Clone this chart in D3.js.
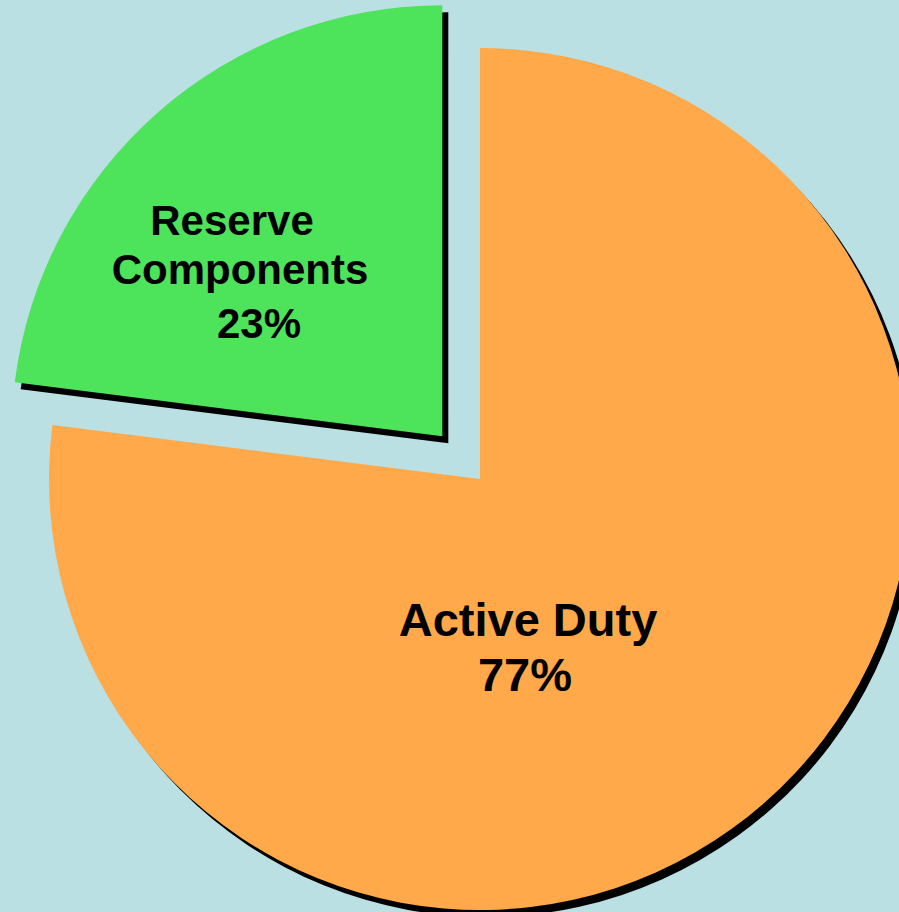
<!DOCTYPE html>
<html><head><meta charset="utf-8">
<script src="https://cdn.jsdelivr.net/npm/d3@7"></script>
<style>html,body{margin:0;padding:0;background:#BBE0E3;overflow:hidden;}</style>
</head><body>
<svg id="c" width="899" height="912"></svg>
<script>
const categories = ["Active Duty", "Reserve Components"];
const values = [77, 23];
const labels = [["Active Duty", "77%"], ["Reserve", "Components", "23%"]];
const colors = ["#FFA94A", "#4DE45B"];
const explode = [0, 57];

const W = 899, H = 912, cx = 480, cy = 479, R = 431;
const svg = d3.select("#c");
svg.append("rect").attr("width", W).attr("height", H).attr("fill", "#BBE0E3");

const pie = d3.pie().sort(null).value(d => d)(values);
const arc = d3.arc().innerRadius(0).outerRadius(R);
const g = svg.append("g").attr("transform", `translate(${cx},${cy})`);

function off(d, i) {
  const a = (d.startAngle + d.endAngle) / 2;
  return [Math.sin(a) * explode[i], -Math.cos(a) * explode[i]];
}
// shadows
g.selectAll("path.sh").data(pie).join("path").attr("class", "sh")
  .attr("d", arc).attr("fill", "#000")
  .attr("transform", (d, i) => { const o = off(d, i); return `translate(${o[0] + 6},${o[1] + 7})`; });
g.selectAll("path.sl").data(pie).join("path").attr("class", "sl")
  .attr("d", arc).attr("fill", (d, i) => colors[i])
  .attr("transform", (d, i) => { const o = off(d, i); return `translate(${o[0]},${o[1]})`; });

// labels
const labelPos = [
  { x: 48, y: 157, size: 47, lines: [{ dx: 0, dy: 0 }, { dx: -3, dy: 55 }] },
  { x: -248, y: -244, size: 42, lines: [{ dx: 0, dy: 0 }, { dx: 8, dy: 49 }, { dx: 27, dy: 103 }] }
];
pie.forEach((d, i) => {
  const p = labelPos[i];
  labels[i].forEach((t, j) => {
    g.append("text").attr("x", p.x + p.lines[j].dx).attr("y", p.y + p.lines[j].dy)
      .attr("text-anchor", "middle")
      .attr("font-family", "'Liberation Sans', Arial, sans-serif")
      .attr("font-weight", "bold").attr("font-size", p.size)
      .attr("fill", "#000").text(t);
  });
});
</script>
</body></html>
